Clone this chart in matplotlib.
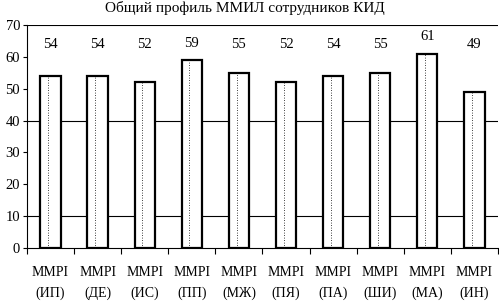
import matplotlib
matplotlib.use("Agg")
import matplotlib.pyplot as plt
import numpy as np

scales = ["ИП", "ДЕ", "ИС", "ПП", "МЖ", "ПЯ", "ПА", "ШИ", "МА", "ИН"]
values = [54, 54, 52, 59, 55, 52, 54, 55, 61, 49]
title = "Общий профиль ММИЛ сотрудников КИД"

plt.rcParams["font.family"] = ["Liberation Serif", "DejaVu Serif"]

fig = plt.figure(figsize=(4.99, 3.02), dpi=100)
ax = fig.add_axes([0.054, 0.179, 0.944, 0.738])

x = np.arange(len(values))
width = 0.43

# gridlines only at 10, 40, 70 like the original
for g in (10, 40, 70):
    ax.axhline(g, color="black", lw=0.8, zorder=1)

ax.bar(x, values, width=width, color="white", edgecolor="black",
       linewidth=1.6, zorder=2)
for xi, v in zip(x, values):
    ax.plot([xi - 0.05, xi - 0.05], [0, v], color="black", lw=0.6,
            linestyle=(0, (1, 2)), zorder=3)
    ax.text(xi, max(63.8, v + 5.3), str(v), ha="center", va="center",
            fontsize=10.5)

ax.set_xlim(-0.5, len(values) - 0.5)
ax.set_ylim(0, 70)
ax.set_yticks(range(0, 71, 10))
ax.tick_params(axis="y", direction="out", length=3, width=0.8, labelsize=10.5, pad=2)

ax.set_xticks(np.arange(len(values) + 1) - 0.5, minor=False)
ax.set_xticklabels([])
ax.tick_params(axis="x", direction="out", length=4, width=0.8)
ax.set_xticks(x, minor=True)
ax.set_xticklabels([f"MMPI\n({s})" for s in scales], minor=True, fontsize=10,
                   linespacing=1.75)
ax.tick_params(axis="x", which="minor", length=0, pad=13)

for side in ("top", "right"):
    ax.spines[side].set_visible(False)
ax.spines["left"].set_linewidth(0.8)
ax.spines["bottom"].set_linewidth(0.8)

fig.text(0.49, 0.973, title, ha="center", va="center", fontsize=11)

fig.savefig("out.png", dpi=100)
